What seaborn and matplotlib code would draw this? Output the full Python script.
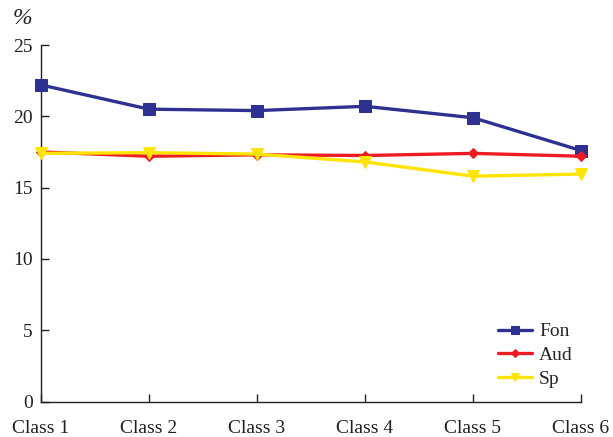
import matplotlib
matplotlib.use("Agg")
import matplotlib.pyplot as plt
import seaborn as sns
import pandas as pd

classes = ["Class 1", "Class 2", "Class 3", "Class 4", "Class 5", "Class 6"]
fon = [22.2, 20.5, 20.4, 20.7, 19.9, 17.6]
aud = [17.5, 17.2, 17.3, 17.25, 17.4, 17.2]
sp = [17.4, 17.45, 17.35, 16.8, 15.8, 15.95]
series_names = ["Fon", "Aud", "Sp"]
y_ticks = [0, 5, 10, 15, 20, 25]

sns.set_style("ticks")
plt.rcParams["font.family"] = ["Liberation Serif", "DejaVu Serif"]

rows = []
for name, vals in zip(series_names, [fon, aud, sp]):
    for i, v in enumerate(vals):
        rows.append({"pos": i, "value": v, "series": name})
df = pd.DataFrame(rows)

palette = {"Fon": "#2E3192", "Aud": "#ED1C24", "Sp": "#FFE400"}
markers = {"Fon": "s", "Aud": "D", "Sp": "v"}
sizes = {"Fon": 8, "Aud": 5, "Sp": 8}
legend_sizes = {"Fon": 6, "Aud": 4, "Sp": 6}

fig = plt.figure(figsize=(6.13, 4.37), dpi=100)
ax = fig.add_axes([41 / 613, 1 - 401.5 / 437, 540 / 613, 356.5 / 437])

for name in series_names:
    sub = df[df["series"] == name]
    sns.lineplot(data=sub, x="pos", y="value", color=palette[name],
                 marker=markers[name], markersize=sizes[name],
                 markeredgecolor=palette[name], linewidth=2.4,
                 label=name, ax=ax, clip_on=False, zorder=3)

ax.set_xlim(0, 5)
ax.set_ylim(0, 25)
ax.set_xticks(range(len(classes)))
ax.set_xticklabels(classes)
ax.set_yticks(y_ticks)
ax.set_xlabel("")
ax.set_ylabel("")
for s in ["top", "right"]:
    ax.spines[s].set_visible(False)
for s in ["left", "bottom"]:
    ax.spines[s].set_linewidth(1.0)
    ax.spines[s].set_color("#231F20")
ax.tick_params(axis="both", direction="in", length=6, width=1.0,
               labelsize=14, colors="#231F20", pad=6)
ax.tick_params(axis="x", pad=13)

fig.text(13 / 613, 1 - 19 / 437, "%", fontsize=17, color="#231F20",
         va="center", ha="left", style="italic")

leg = ax.legend(loc="lower right", bbox_to_anchor=(1.0065, 0.005), frameon=False,
                fontsize=14, handlelength=1.75, handletextpad=0.35,
                labelspacing=0.32, borderaxespad=0.2)
for h, name in zip(leg.legend_handles, series_names):
    h.set_markersize(legend_sizes[name])

fig.savefig("out.png", dpi=100)
